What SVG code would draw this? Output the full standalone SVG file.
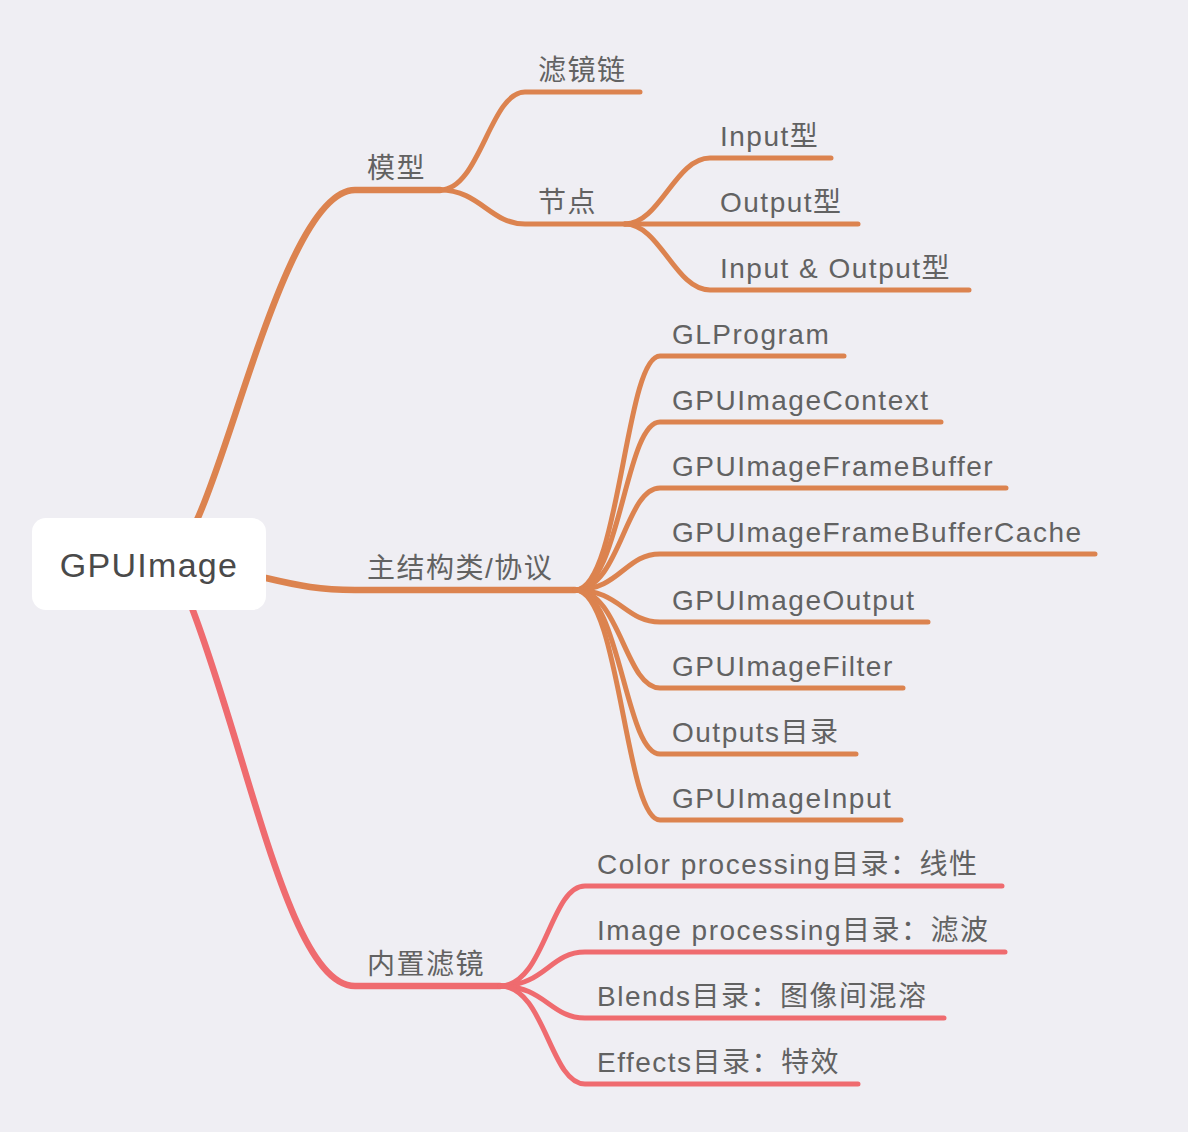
<svg xmlns="http://www.w3.org/2000/svg" width="1188" height="1132" viewBox="0 0 1188 1132">
<style>
.t{font-family:"Liberation Sans","Noto Sans CJK SC",sans-serif;font-size:28px;fill:#626262;letter-spacing:1.5px}
.r{font-family:"Liberation Sans","Noto Sans CJK SC",sans-serif;font-size:34px;fill:#4a4a4a;letter-spacing:1.3px}
.o{fill:none;stroke:#dc834f;stroke-linecap:round}
.p{fill:none;stroke:#ef6b6f;stroke-linecap:round}
.m{stroke-width:6.5}
.c{stroke-width:5}
</style>
<rect x="0" y="0" width="1188" height="1132" fill="#efeef3"/>
<g id="connectors">
<path class="o m" d="M196,522 C235,440 290,190 355,190 L440,190"/>
<path class="o m" d="M266,578 C300,586 320,590 355,590 L575,590"/>
<path class="p m" d="M192,608 C250,760 290,986 355,986 L500,986"/>
<path class="o c" d="M440,190 C480,190 490,92 525,92 L640,92"/>
<path class="o c" d="M440,190 C480,190 490,224 525,224 L625,224"/>
<path class="o c" d="M625,224 C660,224 675,158 710,158 L831,158"/>
<path class="o c" d="M625,224 L858,224"/>
<path class="o c" d="M625,224 C660,224 675,290 710,290 L969,290"/>
<path class="o c" d="M575,590 C620,590 625,356 660,356 L844,356"/>
<path class="o c" d="M575,590 C620,590 625,422 660,422 L941,422"/>
<path class="o c" d="M575,590 C620,590 625,488 660,488 L1006,488"/>
<path class="o c" d="M575,590 C620,590 625,554 660,554 L1095,554"/>
<path class="o c" d="M575,590 C620,590 625,622 660,622 L928,622"/>
<path class="o c" d="M575,590 C620,590 625,688 660,688 L903,688"/>
<path class="o c" d="M575,590 C620,590 625,754 660,754 L856,754"/>
<path class="o c" d="M575,590 C620,590 625,820 660,820 L901,820"/>
<path class="p c" d="M500,986 C545,986 550,886 585,886 L1002,886"/>
<path class="p c" d="M500,986 C545,986 550,952 585,952 L1005,952"/>
<path class="p c" d="M500,986 C545,986 550,1018 585,1018 L944,1018"/>
<path class="p c" d="M500,986 C545,986 550,1084 585,1084 L858,1084"/>
</g>
<g id="root"><rect x="32" y="518" width="234" height="92" rx="14" fill="#ffffff"/><text class="r" x="149" y="577" text-anchor="middle">GPUImage</text></g>
<g id="n-model"><text class="t" x="367" y="178">模型</text></g>
<g id="n-chain"><text class="t" x="538" y="80">滤镜链</text></g>
<g id="n-node"><text class="t" x="538" y="212">节点</text></g>
<g id="n-in"><text class="t" x="720" y="146">Input型</text></g>
<g id="n-out"><text class="t" x="720" y="212">Output型</text></g>
<g id="n-inout"><text class="t" x="720" y="278">Input &amp; Output型</text></g>
<g id="n-main"><text class="t" x="367" y="578">主结构类/协议</text></g>
<g id="n-glp"><text class="t" x="672" y="344">GLProgram</text></g>
<g id="n-ctx"><text class="t" x="672" y="410">GPUImageContext</text></g>
<g id="n-fb"><text class="t" x="672" y="476">GPUImageFrameBuffer</text></g>
<g id="n-fbc"><text class="t" x="672" y="542">GPUImageFrameBufferCache</text></g>
<g id="n-output"><text class="t" x="672" y="610">GPUImageOutput</text></g>
<g id="n-filter"><text class="t" x="672" y="676">GPUImageFilter</text></g>
<g id="n-outputs"><text class="t" x="672" y="742">Outputs目录</text></g>
<g id="n-input"><text class="t" x="672" y="808">GPUImageInput</text></g>
<g id="n-builtin"><text class="t" x="367" y="974">内置滤镜</text></g>
<g id="n-color"><text class="t" x="597" y="874">Color processing目录：线性</text></g>
<g id="n-image"><text class="t" x="597" y="940">Image processing目录：滤波</text></g>
<g id="n-blends"><text class="t" x="597" y="1006">Blends目录：图像间混溶</text></g>
<g id="n-effects"><text class="t" x="597" y="1072">Effects目录：特效</text></g>
</svg>
